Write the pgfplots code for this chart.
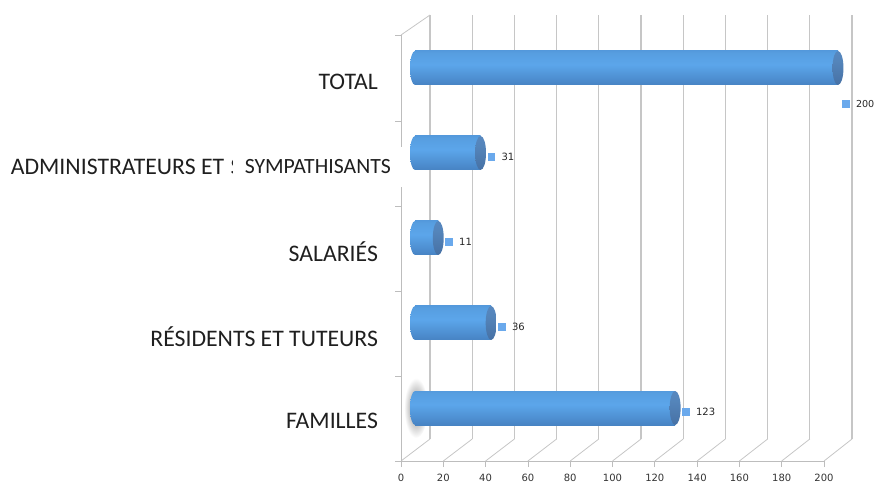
\documentclass[border=0pt]{standalone}
\usepackage{fontspec}
\setmainfont{Carlito}
\newfontfamily\numfont{DejaVu Sans}
\usepackage{pgfplots}
\pgfplotsset{compat=1.18}
\usetikzlibrary{shadings}
\definecolor{gridc}{HTML}{C6C6C6}
\definecolor{axisc}{HTML}{BDBDBD}
\definecolor{markc}{HTML}{6AA9EC}
\pgfdeclareverticalshading{barshade}{100bp}{
  rgb(0bp)=(0.17,0.33,0.52);
  rgb(8bp)=(0.21,0.40,0.62);
  rgb(22bp)=(0.27,0.50,0.75);
  rgb(55bp)=(0.36,0.65,0.92);
  rgb(72bp)=(0.34,0.62,0.88);
  rgb(92bp)=(0.28,0.52,0.78);
  rgb(100bp)=(0.30,0.55,0.80)}
\pgfdeclareverticalshading{capshade}{100bp}{
  rgb(0bp)=(0.20,0.36,0.55);
  rgb(15bp)=(0.26,0.42,0.62);
  rgb(60bp)=(0.33,0.52,0.73);
  rgb(100bp)=(0.36,0.55,0.78)}
\pgfdeclareplotmark{leftcap}{%
  \pgfpathellipse{\pgfpointorigin}{\pgfpoint{3.75pt}{0pt}}{\pgfpoint{0pt}{12.75pt}}%
  \pgfshadepath{barshade}{0}\pgfusepath{discard}}
\pgfdeclareplotmark{rightcap}{%
  \pgfpathellipse{\pgfpointorigin}{\pgfpoint{4.1pt}{0pt}}{\pgfpoint{0pt}{12.75pt}}%
  \pgfshadepath{capshade}{0}\pgfusepath{discard}}
\pgfplotsset{onebar/.style={xbar,bar width=25.5pt,bar shift=0pt,draw=none,shade,shading=barshade,forget plot}}
\begin{document}
\begin{tikzpicture}[x=0.75pt,y=0.75pt]
\path[use as bounding box] (0,0) rectangle (877,489);
% back plane and floor
\foreach \k in {0,...,10}{
  \draw[gridc,line width=1pt] ({430+42.2*\k},50) -- ({430+42.2*\k},474);
  \draw[gridc,line width=0.6pt] ({401+42.3*\k},28) -- ({430+42.2*\k},50);
}
\draw[gridc,line width=0.6pt] (401,454) -- (430,474);
% frame axis
\begin{axis}[
  at={(300.75pt,21pt)},anchor=south west,scale only axis,
  width=317.25pt,height=319.5pt,
  xmin=0,xmax=200,ymin=-0.6235,ymax=4.388,
  axis x line*=bottom,axis y line*=left,
  axis line style={-,draw=axisc,line width=0.7pt},
  xtick={0,20,...,200},
  ytick={-0.6235,0.376,1.376,2.376,3.376,4.388},
  yticklabels={},
  major tick style={draw=axisc,line width=0.6pt},
  tick align=outside,
  major tick length=4.5pt,
  /pgf/number format/assume math mode=true,
  xticklabel style={font=\numfont\fontsize{7.5}{9}\selectfont,text=black!80,yshift=-1.5pt},
  extra y ticks={-0.153,0.835,1.835,2.835,3.835},
  extra y tick labels={FAMILLES,RÉSIDENTS ET TUTEURS,SALARIÉS,{ADMINISTRATEURS ET\hspace{0.75pt} SYMPATHISANTS\kern-9pt},TOTAL},
  extra y tick style={
    major tick length=0pt,
    yticklabel style={font=\fontsize{17.8}{20}\selectfont,text=black!88,anchor=east,xshift=-13.75pt},
  },
]
\end{axis}
% white patch over the long label and the axis
\fill[white] (233,302) rectangle (410,342);
\node[anchor=east,font=\fontsize{16.3}{19}\selectfont,text=black!88,inner sep=0pt] at (391,322) {SYMPATHISANTS};
% shadow behind the base of the FAMILLES bar
\shade[inner color=black!50,outer color=white] (416,81) ellipse (12 and 30);
% bars
\begin{axis}[
  at={(311.25pt,21pt)},anchor=south west,scale only axis,
  width=317.25pt,height=319.5pt,
  xmin=0,xmax=200,ymin=-0.6235,ymax=4.388,
  hide axis,clip=false,
  /pgf/number format/assume math mode=true,
]
\addplot[only marks,mark=leftcap] coordinates {(0,0) (0,1) (0,2) (0,3) (0,4)};
\addplot[onebar] coordinates {(123,0)};
\addplot[onebar] coordinates {(36,1)};
\addplot[onebar] coordinates {(11,2)};
\addplot[onebar] coordinates {(31,3)};
\addplot[onebar] coordinates {(200,4)};
\addplot[only marks,mark=rightcap] coordinates {(123,0) (36,1) (11,2) (31,3) (200,4)};
\addplot[only marks,draw=markc,mark=square*,mark size=2.5pt,
  mark options={draw=markc,fill=markc,xshift=8pt},
  point meta=x,nodes near coords,
  every node near coord/.style={anchor=west,xshift=7.5pt,inner sep=0pt,text=black!85,font=\numfont\fontsize{7.5}{9}\selectfont}]
  coordinates {(123,-0.047) (36,0.953) (11,1.953) (31,2.953)};
\addplot[only marks,draw=markc,mark=square*,mark size=2.5pt,
  mark options={draw=markc,fill=markc,xshift=6pt},
  point meta=x,nodes near coords,
  every node near coord/.style={anchor=west,xshift=7.3pt,inner sep=0pt,text=black!85,font=\numfont\fontsize{7.2}{9}\selectfont}]
  coordinates {(200,3.576)};
\end{axis}
\end{tikzpicture}
\end{document}
